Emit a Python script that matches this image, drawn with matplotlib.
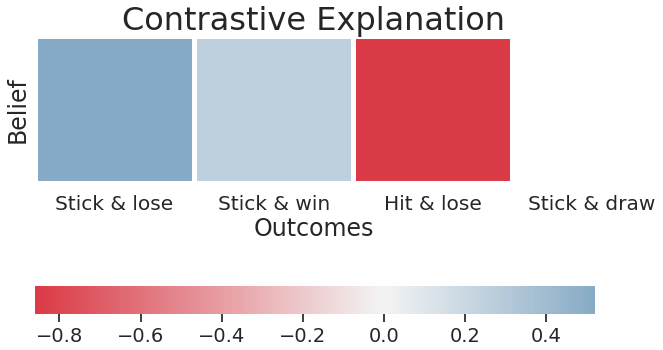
import numpy as np
import matplotlib
matplotlib.use("Agg")
import matplotlib.pyplot as plt
import seaborn as sns

outcomes = ["Stick & lose", "Stick & win", "Hit & lose", "Stick & draw"]
belief = [0.52, 0.26, -0.86]

sns.set_theme(style="white")
plt.rcParams['font.family'] = ['DejaVu Sans']

fig = plt.figure(figsize=(6.63, 3.5), dpi=100)
ax = fig.add_axes([35/663, 167/350, 557/663, 147/350])
cax = fig.add_axes([35/663, 36/350, 560/663, 28/350])

cmap = sns.diverging_palette(10, 240, sep=5, as_cmap=True)
sns.heatmap(np.array([belief]), ax=ax, cbar_ax=cax, cmap=cmap, center=0,
            linewidths=2.5, linecolor="white",
            cbar_kws={"orientation": "horizontal"})
ax.set_xticks(np.arange(len(outcomes)) + 0.5)
ax.set_xticklabels(outcomes, fontsize=14.5, rotation=0)
ax.set_xlim(0, len(outcomes) - 0.5)
ax.set_yticks([])
ax.set_xlabel("Outcomes", fontsize=17, labelpad=2)
ax.set_ylabel("Belief", fontsize=17)
ax.set_title("Contrastive Explanation", fontsize=23, pad=4)
ax.tick_params(axis="x", length=0, pad=9)
cax.tick_params(labelsize=14, length=6, color="#262626")

fig.savefig("out.png")
